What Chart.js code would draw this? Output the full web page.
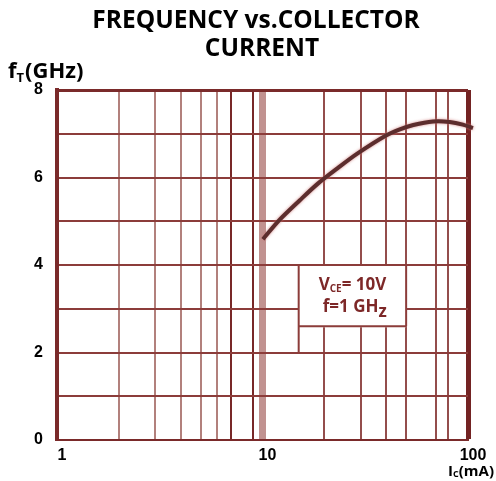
<!DOCTYPE html>
<html>
<head>
<meta charset="utf-8">
<script src="https://cdn.jsdelivr.net/npm/chart.js@4.4.1/dist/chart.umd.min.js"></script>
<style>
  html, body { margin: 0; padding: 0; background: #fff; }
  #wrap { width: 496px; height: 481px; }
</style>
</head>
<body>
<div id="wrap"><canvas id="ft-chart" width="496" height="481"></canvas></div>
<script>
// Дані: струм колектора (мА) і частота fT (ГГц)
const currentMA = [10.05, 12.1, 15.2, 18.6, 23.3, 28.8, 39.9, 46.6, 54.2, 67.6, 81.5, 94.4, 105.7];
const ftGHz = [4.59, 5.03, 5.48, 5.86, 6.22, 6.54, 6.96, 7.1, 7.2, 7.28, 7.27, 7.21, 7.13];

// лінії сітки і підписи осей
const xGridValues = [1, 2, 3, 4, 5, 6, 7, 9, 10, 20, 30, 40, 50, 70, 80, 100];
const xTickLabels = [1, 10, 100];
const yTickLabels = [0, 2, 4, 6, 8];

const DARK = "rgb(122, 42, 42)";
const TEXT_RED = "rgb(125, 40, 40)";

function xGridColor(v) {
  if (v === 10) return "rgba(190, 140, 138, 0.95)";
  if (v === 7 || v === 9) return "rgb(120, 40, 40)";
  if (v === 100) return "rgb(115, 35, 35)";
  if (v < 10) return "rgb(178, 128, 124)";
  return "rgb(148, 78, 76)";
}
function xGridWidth(v) {
  if (v === 10) return 7;
  if (v === 100) return 5;
  return 2;
}

// рамка з умовами вимірювання + підписи
const textPlugin = {
  id: "texts",
  beforeDatasetsDraw(chart) {
    const { ctx, scales } = chart;
    const x = scales.x, y = scales.y;
    const l = x.getPixelForValue(15), r = x.getPixelForValue(50);
    const t = y.getPixelForValue(4), b = y.getPixelForValue(2.6), b2 = y.getPixelForValue(2);
    ctx.save();
    ctx.fillStyle = "#fff";
    ctx.fillRect(l, t + 1, r - l, b - t);
    ctx.strokeStyle = "rgb(140, 60, 58)";
    ctx.lineWidth = 2;
    ctx.beginPath();
    ctx.moveTo(l, t); ctx.lineTo(l, b2);
    ctx.moveTo(l, b); ctx.lineTo(r, b);
    ctx.moveTo(r, t); ctx.lineTo(r, b);
    ctx.stroke();

    ctx.fillStyle = TEXT_RED;
    ctx.textBaseline = "alphabetic";
    ctx.font = "bold 17px 'Open Sans'";
    let px = l + 20, py = t + 25;
    ctx.fillText("V", px, py);
    px += ctx.measureText("V").width;
    ctx.font = "bold 10px 'Open Sans'";
    ctx.fillText("CE", px, py + 2);
    px += ctx.measureText("CE").width;
    ctx.font = "bold 17px 'Open Sans'";
    ctx.fillText("= 10V", px, py);

    px = l + 24; py = t + 47;
    ctx.fillText("f=1 GH", px, py);
    px += ctx.measureText("f=1 GH").width;
    ctx.fillText("z", px, py + 5);
    ctx.restore();
  },
  afterDraw(chart) {
    const { ctx } = chart;
    ctx.save();
    ctx.fillStyle = "#000";
    ctx.textAlign = "center";
    ctx.textBaseline = "middle";
    ctx.font = "bold 24.5px 'Open Sans'";
    ctx.fillText("FREQUENCY vs.COLLECTOR", 256, 21);
    ctx.fillText("CURRENT", 262, 49);

    ctx.textAlign = "left";
    ctx.textBaseline = "alphabetic";
    ctx.font = "bold 22px 'Open Sans'";
    let px = 8;
    ctx.fillText("f", px, 78);
    px += ctx.measureText("f").width;
    ctx.font = "bold 13px 'Open Sans'";
    ctx.fillText("T", px, 82);
    px += ctx.measureText("T").width + 1;
    ctx.font = "bold 22px 'Open Sans'";
    ctx.fillText("(GHz)", px, 78);

    // Ic(mA) — вирівняно по правому краю
    const big = "bold 15px 'Open Sans'", small = "bold 9px 'Open Sans'";
    ctx.font = big;
    const wI = ctx.measureText("I").width, wRest = ctx.measureText("(mA)").width;
    ctx.font = small;
    const wC = ctx.measureText("C").width;
    px = 494 - (wI + wC + wRest);
    ctx.font = big;
    ctx.fillText("I", px, 476);
    ctx.font = small;
    ctx.fillText("C", px + wI, 477);
    ctx.font = big;
    ctx.fillText("(mA)", px + wI + wC, 476);
    ctx.restore();
  },
};

// легкий рожевий ореол навколо кривої
const glowPlugin = {
  id: "glow",
  beforeDatasetDraw(chart) {
    chart.ctx.save();
    chart.ctx.shadowColor = "rgba(205, 120, 120, 0.9)";
    chart.ctx.shadowBlur = 3;
  },
  afterDatasetDraw(chart) {
    chart.ctx.restore();
  },
};

const chartData = {
  datasets: [
    {
      data: currentMA.map((c, i) => ({ x: c, y: ftGHz[i] })),
      borderColor: "rgb(92, 45, 45)",
      borderWidth: 4,
      pointRadius: 0,
      tension: 0.3,
      clip: false,
    },
  ],
};

const config = {
  type: "line",
  data: chartData,
  options: {
    responsive: false,
    animation: false,
    layout: { padding: { top: 90, right: 28, left: 0, bottom: 0 } },
    plugins: {
      legend: { display: false },
      tooltip: { enabled: false },
      title: { display: false },
    },
    scales: {
      x: {
        type: "logarithmic",
        min: 1,
        max: 100,
        afterBuildTicks: (scale) => {
          scale.ticks = xGridValues.map((v) => ({ value: v }));
        },
        afterFit: (scale) => { scale.height = 41; },
        grid: {
          drawTicks: false,
          color: (c) => xGridColor(c.tick ? c.tick.value : 0),
          lineWidth: (c) => xGridWidth(c.tick ? c.tick.value : 0),
        },
        border: { display: true, color: DARK, width: 2 },
        ticks: {
          autoSkip: false,
          maxRotation: 0,
          padding: 6,
          labelOffset: 5,
          color: "#000",
          font: { family: "'Liberation Sans'", weight: "bold", size: 16 },
          callback: (v) => (xTickLabels.includes(v) ? String(v) : ""),
        },
      },
      y: {
        min: 0,
        max: 8,
        afterFit: (scale) => { scale.width = 57; },
        grid: {
          drawTicks: false,
          color: (c) => (c.tick && c.tick.value === 8 ? DARK : "rgb(140, 60, 58)"),
          lineWidth: (c) => (c.tick && c.tick.value === 8 ? 3 : 2),
        },
        border: { display: true, color: DARK, width: 4 },
        ticks: {
          stepSize: 1,
          padding: 14,
          color: "#000",
          font: { family: "'Liberation Sans'", weight: "bold", size: 16 },
          callback: (v) => (yTickLabels.includes(v) ? String(v) : ""),
        },
      },
    },
  },
  plugins: [textPlugin, glowPlugin],
};

const ctx = document.getElementById("ft-chart");
const ftChart = new Chart(ctx, config);
</script>
</body>
</html>
